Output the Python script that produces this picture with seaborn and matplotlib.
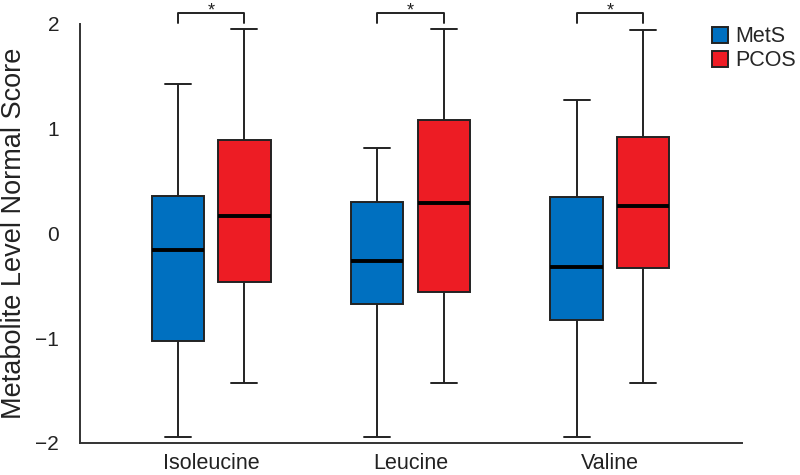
import pandas as pd
import matplotlib.pyplot as plt
import seaborn as sns

# five-number summaries: min, Q1, median, Q3, max
metabolites = ['Isoleucine', 'Leucine', 'Valine']
groups = ['MetS', 'PCOS']

mets_iso = [-1.94, -1.03, -0.16, 0.36, 1.43]
pcos_iso = [-1.43, -0.46, 0.17, 0.89, 1.95]
mets_leu = [-1.94, -0.67, -0.26, 0.30, 0.82]
pcos_leu = [-1.43, -0.56, 0.29, 1.08, 1.95]
mets_val = [-1.94, -0.83, -0.32, 0.35, 1.27]
pcos_val = [-1.43, -0.33, 0.26, 0.92, 1.94]

summaries = {
    ('Isoleucine', 'MetS'): mets_iso, ('Isoleucine', 'PCOS'): pcos_iso,
    ('Leucine', 'MetS'): mets_leu, ('Leucine', 'PCOS'): pcos_leu,
    ('Valine', 'MetS'): mets_val, ('Valine', 'PCOS'): pcos_val,
}

rows = []
for (met, grp), vals in summaries.items():
    for v in vals:
        rows.append({'Metabolite': met, 'Group': grp, 'Score': v})
df = pd.DataFrame(rows)

sns.set_style('white')
plt.rcParams['font.family'] = ['Liberation Sans', 'DejaVu Sans']

fig = plt.figure(figsize=(8, 4.75), dpi=100)
ax = fig.add_axes([0.1, 0.0674, 0.827, 0.8821])

box_width = 0.67
sns.boxplot(data=df, x='Metabolite', y='Score', hue='Group', order=metabolites,
            hue_order=groups, palette=['#0070C0', '#ED1C24'], saturation=1,
            whis=(0, 100), width=box_width, gap=0.22, linecolor='#222222',
            linewidth=1.4, medianprops={'color': 'black', 'linewidth': 2.8}, ax=ax)

ax.set_ylim(-2, 2)
ax.set_xlim(-0.657, 2.66)
ax.set_yticks([-2, -1, 0, 1, 2])
ax.set_yticklabels(['\u22122', '\u22121', '0', '1', '2'])
ax.set_xlabel('')
ax.set_ylabel('Metabolite Level Normal Score', fontsize=19.5, color='#222222')
ax.yaxis.set_label_coords(-0.08, 0.5)
ax.tick_params(axis='y', labelsize=15, length=7, width=1.4, pad=8,
               color='#333333', labelcolor='#222222')
ax.tick_params(axis='x', labelsize=15.5, length=0, pad=7, labelcolor='#222222')
sns.despine(ax=ax)
for s in ['left', 'bottom']:
    ax.spines[s].set_linewidth(1.4)
    ax.spines[s].set_color('#333333')

# significance brackets between the two groups of each metabolite
off = box_width / 4
for i in range(len(metabolites)):
    x1, x2 = i - off, i + off
    ax.plot([x1, x1, x2, x2], [2.01, 2.105, 2.105, 2.01], color='#222222',
            lw=1.4, clip_on=False)
    ax.text(i, 2.085, '*', ha='center', va='baseline', fontsize=13, color='#222222')

ax.legend(loc='upper left', bbox_to_anchor=(0.89, 0.945),
          bbox_transform=fig.transFigure, frameon=False, fontsize=15.5,
          borderpad=0, borderaxespad=0, handlelength=0.75, handleheight=0.75,
          handletextpad=0.35, labelspacing=0.15)

fig.savefig('out.png', dpi=100)
